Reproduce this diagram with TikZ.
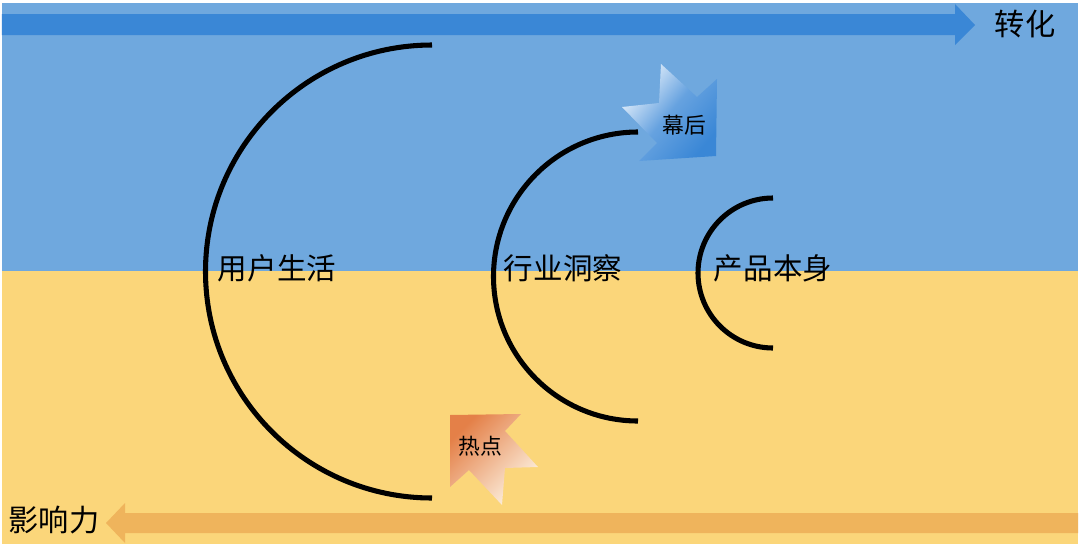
\documentclass[tikz,border=0pt]{standalone}
\usepackage{fontspec}
\setmainfont{Noto Sans CJK SC}
\usepackage{xcolor}
\definecolor{skyblue}{RGB}{111,168,222}
\definecolor{deepblue}{RGB}{58,135,214}
\definecolor{iceblue}{RGB}{234,243,252}
\definecolor{paleyellow}{RGB}{251,214,122}
\definecolor{deeporange}{RGB}{239,180,92}
\definecolor{hotorange}{RGB}{228,128,72}
\definecolor{cream}{RGB}{253,244,228}
\tikzstyle{ring} = [line width=3.6pt, draw=black]
\tikzstyle{ringtext} = [font=\fontsize{21}{25}\selectfont, inner sep=0pt]
\tikzstyle{tagtext} = [font=\fontsize{15.5}{18}\selectfont, inner sep=0pt]
\tikzstyle{sidetext} = [font=\fontsize{21.5}{25}\selectfont, inner sep=0pt]

\begin{document}
\begin{tikzpicture}[x=0.025cm, y=-0.025cm]
	\useasboundingbox (0,0) rectangle (1080,547);
	%background
	\fill[white] (0,0) rectangle (1080,547);
	\fill[skyblue] (2,3) rectangle (1078,271);
	\fill[paleyellow] (2,271) rectangle (1078,544);
	%band arrows
	\fill[deepblue] (2,14) -- (955,14) -- (955,4) -- (975,25) -- (955,45) -- (955,35) -- (2,35) -- cycle;
	\fill[deeporange] (1078,513) -- (125,513) -- (125,503) -- (106,523) -- (125,543) -- (125,533) -- (1078,533) -- cycle;
	%arcs
	\draw[ring] (432,45) arc[start angle=270, end angle=90, radius=226.5];
	\draw[ring] (638,132) arc[start angle=270, end angle=90, radius=144.5];
	\draw[ring] (773,198) arc[start angle=270, end angle=90, radius=75];
	%tag arrows
	\shade[top color=iceblue, bottom color=deepblue, middle color=deepblue!75!iceblue, shading angle=50] (661,64) -- (697,97) -- (717,79) -- (716,156) -- (639,161) -- (657,143) -- (622,107) -- (659,103) -- cycle;
	\shade[top color=hotorange, bottom color=cream, shading angle=45] (450,415) -- (521,414) -- (505,431) -- (538,467) -- (505,468) -- (502,505) -- (469,470) -- (450,487) -- cycle;
	%texts
	\node[ringtext] (life) at (277,268) {用户生活};
	\node[ringtext] (insight) at (563,268) {行业洞察};
	\node[ringtext] (product) at (773,268) {产品本身};
	\node[tagtext] (backstage) at (684,125) {幕后};
	\node[tagtext] (hotspot) at (480,446) {热点};
	\node[sidetext] (convert) at (1025,24) {转化};
	\node[sidetext] (influence) at (54,520) {影响力};
\end{tikzpicture}
\end{document}
